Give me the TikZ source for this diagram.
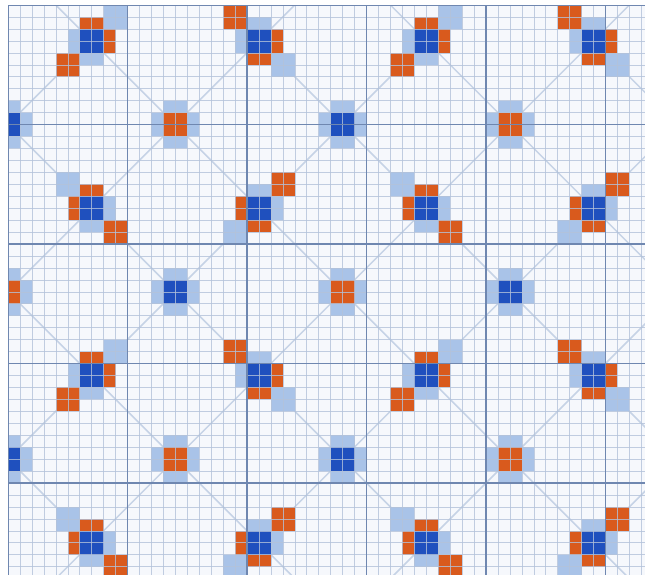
\documentclass[tikz,border=0pt]{standalone}
\usepackage{tikz}
\definecolor{PaperTint}{HTML}{F6F8FC}
\definecolor{GridFine}{HTML}{B3C2DA}
\definecolor{GridMajor}{HTML}{6F87B0}
\definecolor{DiagLine}{HTML}{C6D3E6}
\definecolor{DotBlue}{HTML}{1F50BE}
\definecolor{DotOrange}{HTML}{D95A1D}
\definecolor{DotPale}{HTML}{A9C3E8}

% one cluster: centre (#1,#2), big orange square towards (#3,#4)
\newcommand{\cluster}[4]{%
  \fill[pale] ({#1-(#3)},{#2-(#4)}) rectangle ({#1-3*(#3)},{#2-3*(#4)});
  \fill[orng] ({#1+(#3)},{#2+(#4)}) rectangle ({#1+3*(#3)},{#2+3*(#4)});
  \fill[orng] ({#1-(#3)},{#2-1}) rectangle ({#1-2*(#3)},{#2+1});
  \fill[pale] ({#1+(#3)},{#2-1}) rectangle ({#1+2*(#3)},{#2+1});
  \fill[orng] ({#1-1},{#2-(#4)}) rectangle ({#1+1},{#2-2*(#4)});
  \fill[pale] ({#1-1},{#2+(#4)}) rectangle ({#1+1},{#2+2*(#4)});
  \fill[DotBlue] ({#1-1},{#2-1}) rectangle ({#1+1},{#2+1});
}

\begin{document}
\begin{tikzpicture}[x=0.3cm, y=-0.3cm,
  fine/.style={GridFine, line width=0.35pt, opacity=0.8},
  major/.style={GridMajor, line width=0.8pt},
  diag/.style={DiagLine, line width=1.1pt},
  pale/.style={fill=DotPale},
  orng/.style={fill=DotOrange}]

\useasboundingbox (-0.67,-0.42) rectangle (53.31,47.7);
\fill[white] (-0.67,-0.42) rectangle (53.31,47.7);

\begin{scope}
\clip (0,0) rectangle (53.31,47.7);
\fill[PaperTint] (0,0) rectangle (53.31,47.7);

% diagonal lattice
\foreach \c in {-38,-24,...,46}{\draw[diag] ({\c-2},-2) -- ({\c+52},52);}
\foreach \d in {10,24,...,94}{\draw[diag] ({\d+2},-2) -- ({\d-52},52);}

% single dots
\foreach \cx/\cy/\col in {0/10/DotBlue, 14/10/DotOrange, 28/10/DotBlue, 42/10/DotOrange,
                          0/24/DotOrange, 14/24/DotBlue, 28/24/DotOrange, 42/24/DotBlue,
                          0/38/DotBlue, 14/38/DotOrange, 28/38/DotBlue, 42/38/DotOrange}{
  \fill[pale] ({\cx-1},{\cy-2}) rectangle ({\cx+1},{\cy+2});
  \fill[pale] ({\cx-2},{\cy-1}) rectangle ({\cx+2},{\cy+1});
  \fill[\col] ({\cx-1},{\cy-1}) rectangle ({\cx+1},{\cy+1});
}

% clusters
\foreach \cx/\cy/\sx/\sy in {7/3/-1/1, 21/3/-1/-1, 35/3/-1/1, 49/3/-1/-1,
                             7/17/1/1, 21/17/1/-1, 35/17/1/1, 49/17/1/-1,
                             7/31/-1/1, 21/31/-1/-1, 35/31/-1/1, 49/31/-1/-1,
                             7/45/1/1, 21/45/1/-1, 35/45/1/1, 49/45/1/-1}{
  \cluster{\cx}{\cy}{\sx}{\sy}
}

% graph paper
\foreach \i in {1,...,53}{\draw[fine] (\i,0) -- (\i,47.7);}
\foreach \j in {1,...,47}{\draw[fine] (0,\j) -- (53.31,\j);}
\foreach \i in {0,10,...,50}{\draw[major] (\i,0) -- (\i,47.7);}
\foreach \j in {0,10,...,40}{\draw[major] (0,\j) -- (53.31,\j);}
\end{scope}
\end{tikzpicture}
\end{document}
